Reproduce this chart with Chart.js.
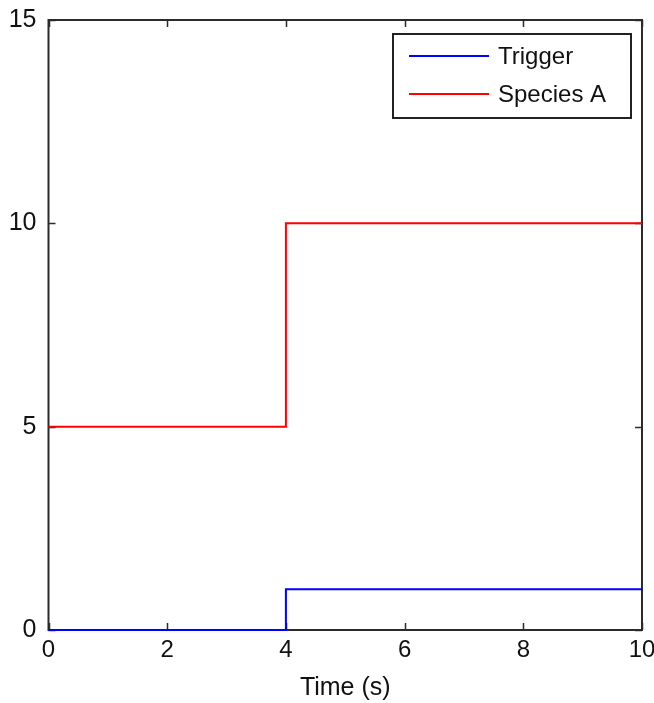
<!DOCTYPE html>
<html><head><meta charset="utf-8">
<script src="https://cdn.jsdelivr.net/npm/chart.js@4"></script>
<style>html,body{margin:0;padding:0;background:#fff;}#wrap{width:654px;height:703px;}</style>
</head><body><div id="wrap"><canvas id="c" width="654" height="703"></canvas></div>
<script>
const times = [0, 4, 10];
const trigger = [0, 1, 1];
const speciesA = [5, 10, 10];
const xTicks = [0, 2, 4, 6, 8, 10];
const yTicks = [0, 5, 10, 15];
const seriesNames = ['Trigger', 'Species A'];
const seriesColors = ['#0000ff', '#ff0000'];

const FONT = 'Liberation Sans, Arial, sans-serif';
const AX = '#2b2b2b';

const boxPlugin = {
  id: 'boxPlugin',
  beforeDatasetsDraw(chart) {
    const ctx = chart.ctx, a = chart.chartArea;
    const xs = chart.scales.x, ys = chart.scales.y;
    ctx.save();
    ctx.strokeStyle = AX; ctx.lineWidth = 2;
    ctx.strokeRect(a.left, a.top, a.right - a.left, a.bottom - a.top);
    ctx.lineWidth = 1.5;
    const L = 7;
    ctx.beginPath();
    xTicks.forEach(v => {
      const px = Math.round(xs.getPixelForValue(v)) + 0.5;
      ctx.moveTo(px, a.bottom); ctx.lineTo(px, a.bottom - L);
      ctx.moveTo(px, a.top); ctx.lineTo(px, a.top + L);
    });
    yTicks.forEach(v => {
      const py = Math.round(ys.getPixelForValue(v)) + 0.5;
      ctx.moveTo(a.left, py); ctx.lineTo(a.left + L, py);
      ctx.moveTo(a.right, py); ctx.lineTo(a.right - L, py);
    });
    ctx.stroke();
    ctx.restore();
  },
  afterDraw(chart) {
    const ctx = chart.ctx;
    ctx.save();
    const lx = 393, ly = 34, lw = 238, lh = 84;
    ctx.fillStyle = '#fff';
    ctx.fillRect(lx, ly, lw, lh);
    ctx.strokeStyle = '#222'; ctx.lineWidth = 2;
    ctx.strokeRect(lx, ly, lw, lh);
    ctx.font = '24px ' + FONT;
    ctx.textBaseline = 'middle';
    chart.data.datasets.forEach((ds, i) => {
      const y = 56 + i * 38;
      ctx.strokeStyle = ds.borderColor; ctx.lineWidth = 2;
      ctx.beginPath(); ctx.moveTo(409, y); ctx.lineTo(489, y); ctx.stroke();
      ctx.fillStyle = '#111';
      ctx.fillText(ds.label, 498, y + 1);
    });
    ctx.restore();
  }
};

new Chart(document.getElementById('c'), {
  type: 'line',
  data: {
    datasets: [
      { label: seriesNames[0], data: times.map((t, i) => ({x: t, y: trigger[i]})), borderColor: seriesColors[0], borderWidth: 2, pointRadius: 0, stepped: 'before', fill: false },
      { label: seriesNames[1], data: times.map((t, i) => ({x: t, y: speciesA[i]})), borderColor: seriesColors[1], borderWidth: 2, pointRadius: 0, stepped: 'before', fill: false }
    ]
  },
  options: {
    responsive: false,
    animation: false,
    clip: false,
    layout: { padding: { top: 20, right: 12, left: 0, bottom: 0 } },
    plugins: { legend: { display: false }, tooltip: { enabled: false } },
    scales: {
      x: {
        type: 'linear', min: 0, max: 10,
        afterBuildTicks(s) { s.ticks = xTicks.map(v => ({value: v})); },
        afterFit(s) { s.height = 73; s.paddingLeft = 0; s.paddingRight = 0; },
        ticks: { color: '#111', font: { family: FONT, size: 24 }, padding: 6, maxRotation: 0 },
        grid: { display: true, drawOnChartArea: false, drawTicks: false },
        border: { display: false },
        title: { display: true, text: 'Time (s)', color: '#111', font: { family: FONT, size: 25 }, padding: { top: 2, bottom: 0 } }
      },
      y: {
        type: 'linear', min: 0, max: 15,
        afterBuildTicks(s) { s.ticks = yTicks.map(v => ({value: v})); },
        afterFit(s) { s.width = 48.5; s.paddingTop = 0; s.paddingBottom = 0; },
        ticks: { color: '#111', font: { family: FONT, size: 25 }, padding: 12 },
        grid: { display: true, drawOnChartArea: false, drawTicks: false },
        border: { display: false }
      }
    }
  },
  plugins: [boxPlugin]
});
</script></body></html>
